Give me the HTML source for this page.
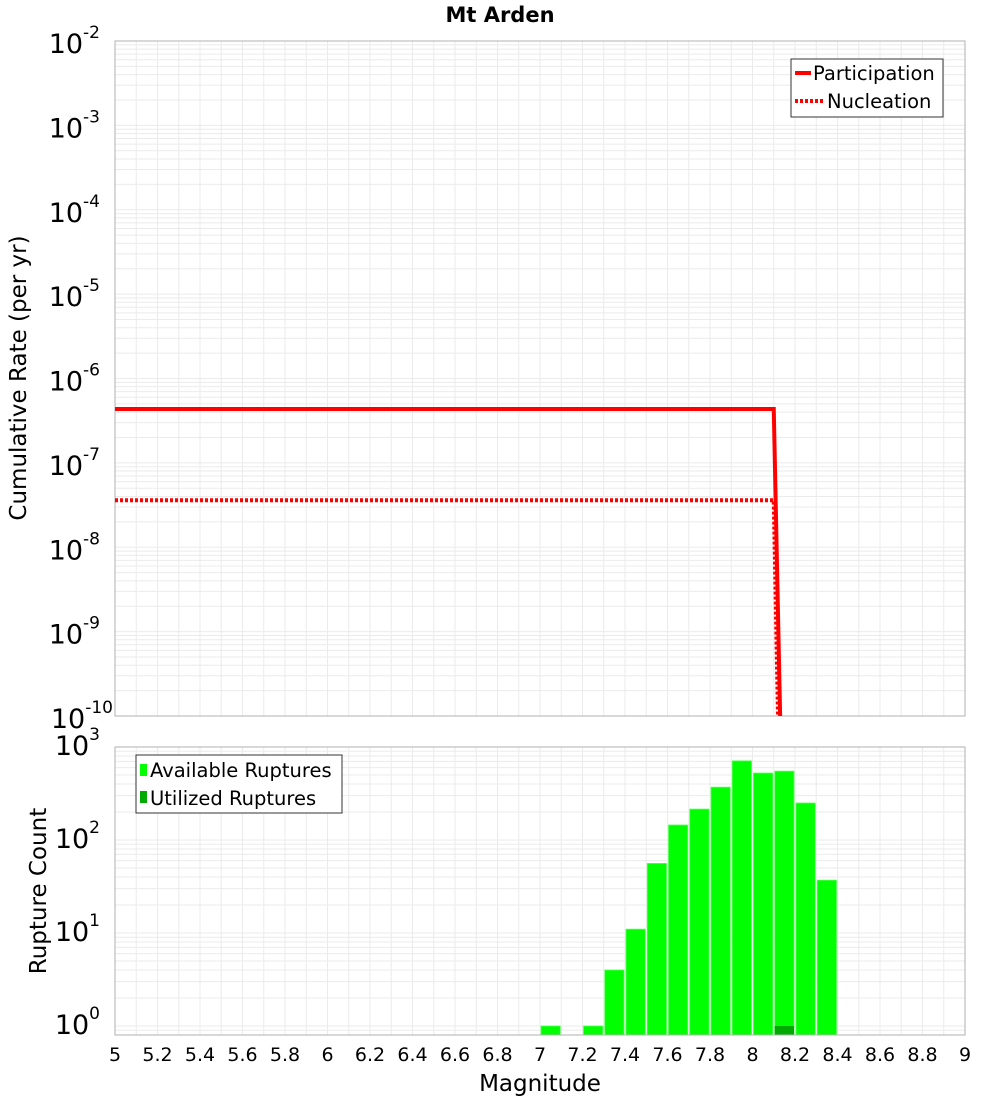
<!DOCTYPE html>
<html><head><meta charset="utf-8">
<style>
html,body{margin:0;padding:0;background:#fff;}
svg{display:block;font-family:"DejaVu Sans","Liberation Sans",sans-serif;}
</style></head>
<body>
<svg id="chart" width="1000" height="1100" viewBox="0 0 1000 1100" xmlns="http://www.w3.org/2000/svg">
<text x="500" y="22" text-anchor="middle" font-size="21" font-weight="bold">Mt Arden</text>
<g id="top"></g>
<g id="bot"></g>
<text transform="translate(26,378) rotate(-90)" text-anchor="middle" font-size="23">Cumulative Rate (per yr)</text>
<text transform="translate(46,891) rotate(-90)" text-anchor="middle" font-size="23">Rupture Count</text>
<text x="540" y="1091" text-anchor="middle" font-size="23">Magnitude</text>
</svg>
<script>
// Data
const partMags = [5.0, 8.1, 8.13];
const partRates = [4.35e-7, 4.35e-7, 1e-10];
const nuclMags = [5.0, 8.1, 8.12];
const nuclRates = [3.6e-8, 3.6e-8, 1e-10];
const binStarts = [7.0, 7.2, 7.3, 7.4, 7.5, 7.6, 7.7, 7.8, 7.9, 8.0, 8.1, 8.2, 8.3];
const availCounts = [1, 1, 4, 11, 56, 145, 215, 370, 710, 525, 550, 250, 37];
const utilStarts = [8.1];
const utilCounts = [1];
const xTicks = [5,5.2,5.4,5.6,5.8,6,6.2,6.4,6.6,6.8,7,7.2,7.4,7.6,7.8,8,8.2,8.4,8.6,8.8,9];
const topExps = [-2,-3,-4,-5,-6,-7,-8,-9,-10];
const botExps = [3,2,1,0];

const NS="http://www.w3.org/2000/svg";
const L=115,R=965;
const T1=41,B1=716,T2=747,B2=1035;
function xS(m){return L+(m-5)/(9-5)*(R-L);}
function yTop(v){return T1+(-2-Math.log10(v))*(B1-T1)/8;}
const decB=(1026-T2)/3;
function yBot(v){return T2+(3-Math.log10(v))*decB;}
function mk(parent,tag,attrs){const e=document.createElementNS(NS,tag);for(const k in attrs)e.setAttribute(k,attrs[k]);parent.appendChild(e);return e;}

function grid(g,top,bot,yfn,expLo,expHi){
  for(let m=5;m<=9.001;m+=0.1){
    const x=xS(m);
    const ln=mk(g,'line',{x1:x,x2:x,y1:top,y2:bot,stroke:'#ebebeb','stroke-width':1});
    
    
  }
  for(let e=expLo;e<=expHi;e++){
    for(let k=1;k<10;k++){
      const y=yfn(k*Math.pow(10,e));
      if(y<top-0.5||y>bot+0.5)continue;
      const ln=mk(g,'line',{x1:L,x2:R,y1:y,y2:y,stroke:'#ebebeb','stroke-width':1});
      
      
    }
  }
}
function pw(g,x,y,exp,name){
  const t=mk(g,'text',{x:x,y:y,'text-anchor':'end','font-size':27});
  
  
  t.appendChild(document.createTextNode('10'));
  const s=mk(t,'tspan',{dy:-15,'font-size':17});
  s.textContent=String(exp);
}

// Top panel
const gt=document.getElementById('top');
grid(gt,T1,B1,yTop,-10,-3);
const f1=mk(gt,'rect',{x:L,y:T1,width:R-L,height:B1-T1,fill:'none',stroke:'#b0b0b0','stroke-width':1});


topExps.forEach(e=>{pw(gt,e===-10?113:100,yTop(Math.pow(10,e))+12,e,'top-y-tick-label');});
function line(g,ms,vs,dash,name){
  const pts=ms.map((m,i)=>xS(m)+','+yTop(vs[i])).join(' ');
  const p=mk(g,'polyline',{points:pts,fill:'none',stroke:'#ff0000','stroke-width':4});
  if(dash)p.setAttribute('stroke-dasharray',dash);
  
  
}
line(gt,nuclMags,nuclRates,'3,2','nucleation-line');
line(gt,partMags,partRates,null,'participation-line');
const lg=mk(gt,'g',{});


mk(lg,'rect',{x:791,y:59,width:152,height:58,fill:'#fff',stroke:'#333','stroke-width':1});
mk(lg,'line',{x1:795,x2:811,y1:73,y2:73,stroke:'#f00','stroke-width':4});
let t=mk(lg,'text',{x:813,y:80,'font-size':19.5});t.textContent='Participation';


mk(lg,'line',{x1:795,x2:823,y1:101,y2:101,stroke:'#f00','stroke-width':4,'stroke-dasharray':'3,2'});
t=mk(lg,'text',{x:827,y:108,'font-size':19.5});t.textContent='Nucleation';



// Bottom panel
const gb=document.getElementById('bot');
grid(gb,T2,B2,yBot,-1,2);
binStarts.forEach((m,i)=>{
  const x0=xS(m)+1,x1=xS(m+0.1)-1;
  const r=mk(gb,'rect',{x:x0,y:yBot(availCounts[i]),width:x1-x0,height:B2-yBot(availCounts[i]),fill:'#00ff00',stroke:'#55ff55','stroke-width':0.8});
  
  
});
utilStarts.forEach((m,i)=>{
  const x0=xS(m)+1,x1=xS(m+0.1)-1;
  const r=mk(gb,'rect',{x:x0,y:yBot(utilCounts[i]),width:x1-x0,height:B2-yBot(utilCounts[i]),fill:'#00aa00'});
  
  
});
const f2=mk(gb,'rect',{x:L,y:T2,width:R-L,height:B2-T2,fill:'none',stroke:'#b0b0b0','stroke-width':1});


botExps.forEach(e=>{pw(gb,100,yBot(Math.pow(10,e))+8,e,'bottom-y-tick-label');});
xTicks.forEach(m=>{
  const tx=mk(gb,'text',{x:xS(m),y:1061,'text-anchor':'middle','font-size':19});
  tx.textContent=String(m);
  
  
});
const lb=mk(gb,'g',{});


mk(lb,'rect',{x:136,y:755,width:206,height:58,fill:'#fff',stroke:'#333','stroke-width':1});
mk(lb,'rect',{x:140,y:764,width:7,height:12,fill:'#00ff00'});
t=mk(lb,'text',{x:150,y:777,'font-size':19.5});t.textContent='Available Ruptures';


mk(lb,'rect',{x:140,y:791,width:7,height:12,fill:'#00aa00'});
t=mk(lb,'text',{x:150,y:805,'font-size':19.5});t.textContent='Utilized Ruptures';


</script>
</body></html>
